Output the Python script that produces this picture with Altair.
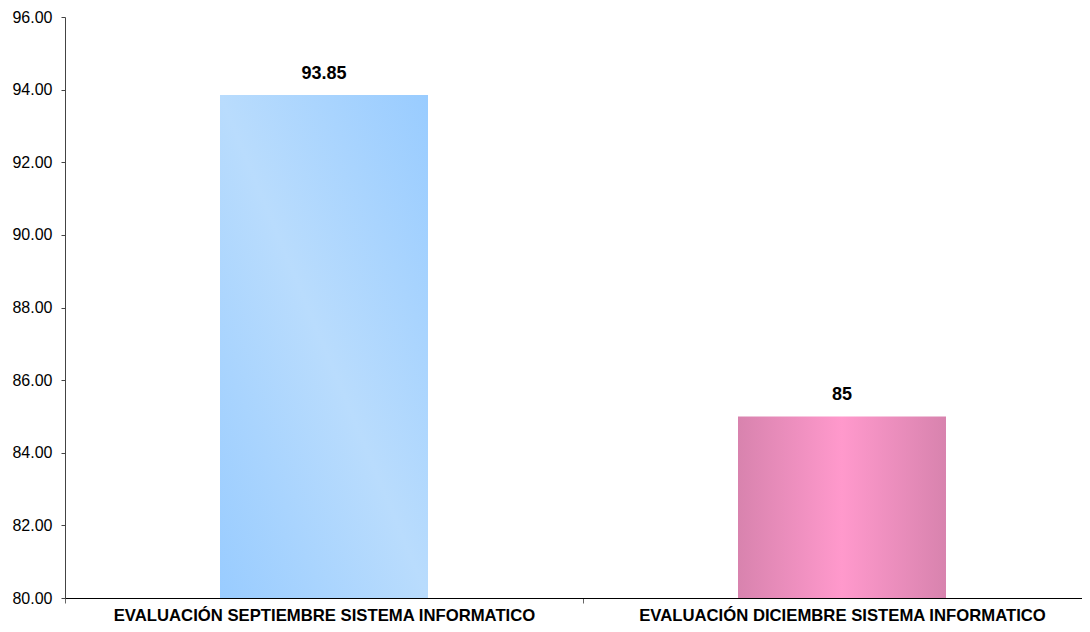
import altair as alt
import pandas as pd

categories = ["EVALUACIÓN SEPTIEMBRE SISTEMA INFORMATICO",
              "EVALUACIÓN DICIEMBRE SISTEMA INFORMATICO"]
values = [93.85, 85.0]
value_labels = ["93.85", "85"]

df = pd.DataFrame({"cat": categories, "val": values, "lab": value_labels})

FONT = "Liberation Sans"

blue_grad = {
    "gradient": "linear", "x1": 1, "y1": 0, "x2": 0, "y2": 1,
    "stops": [
        {"offset": 0.0, "color": "#99ccff"},
        {"offset": 0.5, "color": "#b9dcfd"},
        {"offset": 1.0, "color": "#99ccff"},
    ],
}
pink_grad = {
    "gradient": "linear", "x1": 0, "y1": 0, "x2": 1, "y2": 0,
    "stops": [
        {"offset": 0.0, "color": "#d883ae"},
        {"offset": 0.5, "color": "#ff99cc"},
        {"offset": 1.0, "color": "#d883ae"},
    ],
}

x_enc = alt.X(
    "cat:N", sort=categories, title=None,
    scale=alt.Scale(paddingInner=0, paddingOuter=0, range=[0, 1036]),
    axis=alt.Axis(labelAngle=0, labelFont=FONT, labelFontSize=16.7, labelFontWeight="bold",
                  labelColor="#000000", tickSize=5, tickColor="#666666", labelPadding=4,
                  labelLimit=0, labelOverlap=False,
                  domainColor="#000000", domainWidth=1.2, tickBand="extent"),
)
y_enc = alt.Y(
    "val:Q", title=None,
    scale=alt.Scale(domain=[80, 96], zero=False, nice=False),
    axis=alt.Axis(values=list(range(80, 97, 2)), format=".2f", grid=False,
                  labelFont=FONT, labelFontSize=16, labelColor="#000000",
                  tickSize=4, tickColor="#444444", domainColor="#444444", labelPadding=9),
)

base = alt.Chart(df).encode(x=x_enc, y=y_enc)

bar1 = base.transform_filter(alt.datum.cat == categories[0]).mark_bar(
    width={"band": 208 / 518}, color=blue_grad, clip=True).encode(y2=alt.datum(80))
bar2 = base.transform_filter(alt.datum.cat == categories[1]).mark_bar(
    width={"band": 208 / 518}, color=pink_grad, clip=True).encode(y2=alt.datum(80))

text = base.mark_text(baseline="bottom", dy=-12, font=FONT, fontSize=18,
                      fontWeight="bold", color="#000000").encode(text="lab:N")

chart = alt.layer(bar1, bar2, text).properties(
    width=1017, height=581,
    background="white",
    autosize=alt.AutoSizeParams(type="none"),
    padding={"left": 57, "top": 9, "right": 0, "bottom": 26},
).configure_view(strokeWidth=0, stroke="transparent")

chart.save("out.html", embed_options={"renderer": "svg", "actions": False})
